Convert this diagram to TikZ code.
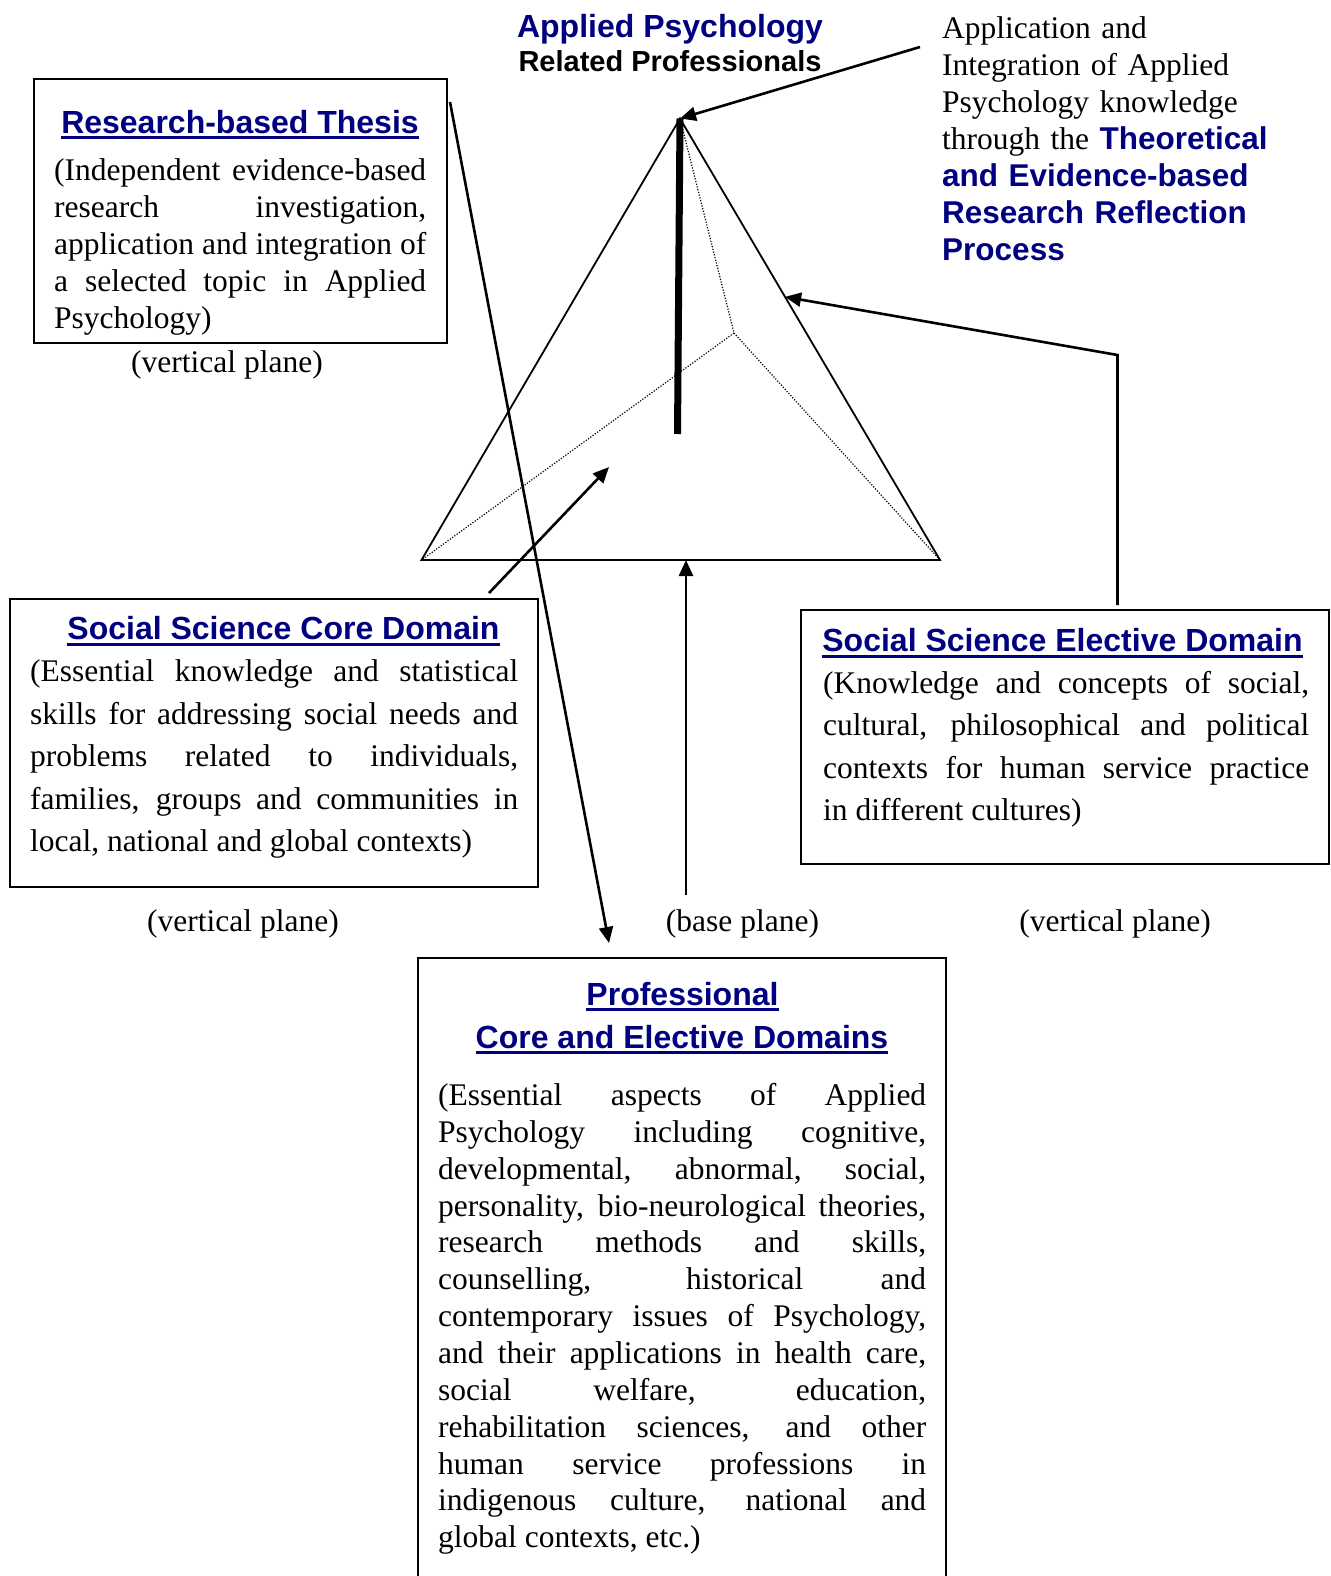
\documentclass[tikz,border=0pt]{standalone}
\usepackage{fontspec}
\setmainfont{Liberation Serif}
\setsansfont{Liberation Sans}
\usetikzlibrary{arrows.meta, calc}

\definecolor{apblue}{RGB}{0,0,128}
\setlength{\parindent}{0pt}
\hyphenpenalty=10000
\exhyphenpenalty=10000
\tolerance=10000

% underlined heading
\newcommand{\headul}[1]{\setbox0\hbox{#1}\rlap{\raisebox{-6pt}{\rule{\wd0}{2.6pt}}}\box0}
% bold blue words inside plain text
\newcommand{\apbold}[1]{{\sffamily\bfseries\color{apblue}#1}}

\tikzset{
  boxframe/.style={draw, line width=1.6pt, inner sep=0pt},
  headtxt/.style={anchor=base, inner sep=0pt, text=apblue,
    font=\fontsize{32}{38}\selectfont\sffamily\bfseries},
  bodytxt/.style={anchor=base west, inner sep=0pt, align=justify,
    font=\fontsize{31.5}{37}\selectfont},
  widebody/.style={bodytxt, font=\fontsize{31.5}{42.5}\selectfont},
  planelbl/.style={anchor=base, inner sep=0pt, font=\fontsize{31.5}{37}\selectfont},
  pyredge/.style={line width=1.8pt},
  hidden/.style={line width=1.2pt, dash pattern=on 1.2pt off 1.6pt},
  pointer/.style={-{Triangle[length=16pt,width=14pt]}, line width=2.6pt},
}

\begin{document}
\begin{tikzpicture}[x=1pt, y=-1pt]
  \useasboundingbox (0,0) rectangle (1330,1576);
  \clip (0,0) rectangle (1330,1576);

  % top labels
  \node[headtxt] (aptitle) at (670,37.5) {Applied Psychology};
  \node[anchor=base, inner sep=0pt, font=\fontsize{29}{34}\selectfont\sffamily\bfseries]
    (aprel) at (670,72) {Related Professionals};
  \node[anchor=base west, inner sep=0pt, text width=390, align=left,
    font=\fontsize{31.5}{37}\selectfont] (apptext) at (942,38.5)
    {Application and\\ Integration of Applied\\ Psychology knowledge\\
     through the \apbold{Theoretical}\\ \apbold{and Evidence-based}\\
     \apbold{Research Reflection}\\ \apbold{Process}};

  % thesis box
  \node[boxframe, minimum width=413, minimum height=264] (thesis) at (240.5,211) {};
  \node[headtxt] (thesishead) at (240,133) {\headul{Research-based Thesis}};
  \node[bodytxt, text width=372] (thesisbody) at (54,180)
    {(Independent evidence-based\linebreak research investigation,\linebreak
     application and integration of\linebreak a selected topic in Applied\linebreak
     Psychology)};
  \node[planelbl] (thesisplane) at (227,372) {(vertical plane)};

  % social science core box
  \node[boxframe, minimum width=528, minimum height=288] (core) at (274,743) {};
  \node[headtxt] (corehead) at (283.5,639.5) {\headul{Social Science Core Domain}};
  \node[widebody, text width=488] (corebody) at (30,681.5)
    {(Essential knowledge and statistical\linebreak skills for addressing social needs and\linebreak
     problems related to individuals,\linebreak families, groups and communities in\linebreak
     local, national and global contexts)};
  \node[planelbl] (coreplane) at (243,931) {(vertical plane)};

  % social science elective box
  \node[boxframe, minimum width=528, minimum height=254] (elect) at (1065,737) {};
  \node[headtxt] (electhead) at (1062.5,651.5) {\headul{Social Science Elective Domain}};
  \node[widebody, text width=486] (electbody) at (823,693)
    {(Knowledge and concepts of social,\linebreak cultural, philosophical and political\linebreak
     contexts for human service practice\linebreak in different cultures)};
  \node[planelbl] (electplane) at (1115,931) {(vertical plane)};

  \node[planelbl] (baseplane) at (742.5,931) {(base plane)};

  % professional box
  \node[boxframe, minimum width=528, minimum height=664] (prof) at (682,1290) {};
  \node[headtxt] (profhead) at (682.5,1005) {\headul{Professional}};
  \node[headtxt] (profhead2) at (682,1048) {\headul{Core and Elective Domains}};
  \node[bodytxt, text width=488, font=\fontsize{31.5}{36.85}\selectfont] (profbody) at (438,1105.5)
    {(Essential aspects of Applied\linebreak Psychology including cognitive,\linebreak
     developmental, abnormal, social,\linebreak personality, bio-neurological theories,\linebreak
     research methods and skills,\linebreak counselling, historical and\linebreak
     contemporary issues of Psychology,\linebreak and their applications in health care,\linebreak
     social welfare, education,\linebreak rehabilitation sciences, and other\linebreak
     human service professions in\linebreak indigenous culture, national and\linebreak
     global contexts, etc.)};

  % pyramid
  \coordinate (apex) at (680,118.5);
  \coordinate (lbase) at (421.5,560);
  \coordinate (rbase) at (940,560);
  \coordinate (back) at (734,333);
  \coordinate (postbot) at (677.5,434);
  \draw[pyredge] (apex) -- (lbase) -- (rbase) -- cycle;
  \draw[hidden] (apex) -- (back) -- (lbase) (back) -- (rbase);
  \draw[line width=7pt] (apex) -- (postbot);

  % connectors
  \coordinate (apptail) at (920,47);
  \coordinate (etail) at (1117.5,605);
  \coordinate (ebend) at (1117.5,355);
  \coordinate (ctail) at (489,593);
  \coordinate (ctip) at (609,467);
  \coordinate (ttail) at (450,102);
  \coordinate (ptip) at (609,943);
  \coordinate (btail) at (686,895);

  \draw[pointer] (apptail) -- (apex);
  \draw[pointer] (etail) -- (ebend) -- ($(apex)!0.404!(rbase)$);
  \draw[pointer] (ctail) -- (ctip);
  \draw[pointer] (ttail) -- (ptip);
  \draw[pointer] (btail) -- (btail |- lbase);
\end{tikzpicture}
\end{document}
